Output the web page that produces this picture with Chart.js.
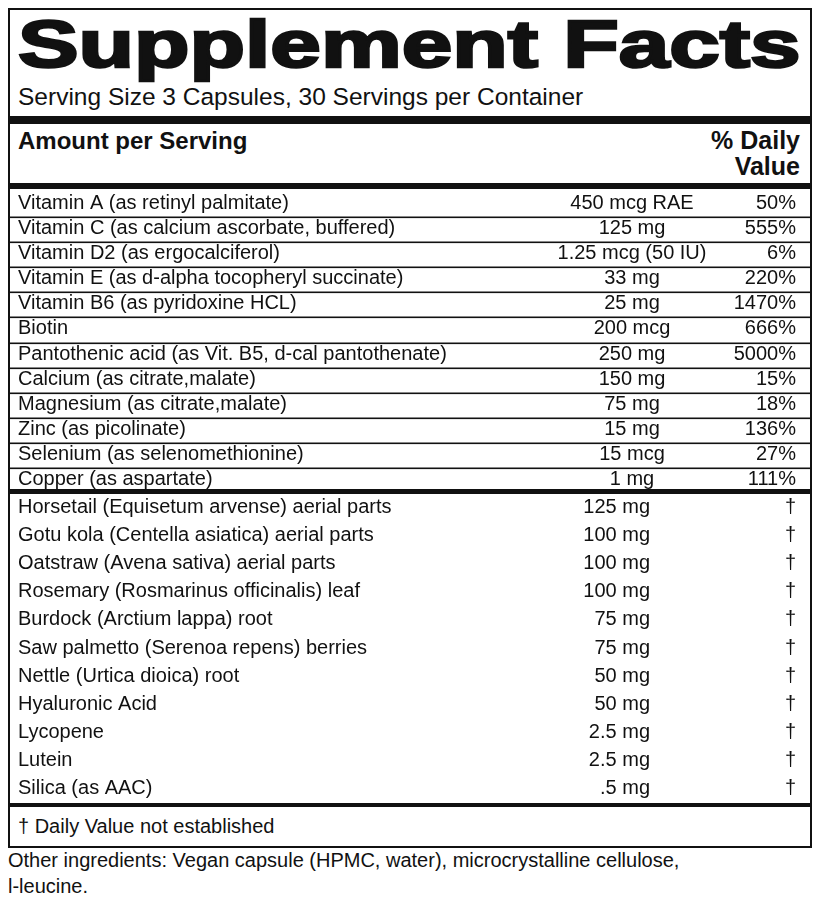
<!DOCTYPE html>
<html>
<head>
<meta charset="utf-8">
<script src="https://cdn.jsdelivr.net/npm/chart.js@4"></script>
<style>
  body { margin: 0; background: #fff; font-family: "Liberation Sans", Arial, sans-serif; color: #111; }
  #wrap { position: relative; width: 820px; height: 900px; overflow: hidden; }
  #box { position: absolute; left: 8px; top: 8px; width: 800px; height: 836px; border: 2px solid #111; }
  .t { position: absolute; white-space: nowrap; }
  .bar { position: absolute; left: 10px; width: 800px; background: #111; }
  canvas { position: absolute; left: 0; }
</style>
</head>
<body>
<div id="wrap">
  <div id="box"></div>
  <div class="t" id="title" style="left:18px;top:6px;font-size:66px;font-weight:bold;-webkit-text-stroke:2.5px #111;transform-origin:left top;">Supplement Facts</div>
  <div class="t" style="left:18px;top:83px;font-size:24.5px;">Serving Size 3 Capsules, 30 Servings per Container</div>
  <div class="bar" style="top:116px;height:8px;"></div>
  <div class="t" style="left:18px;top:127px;font-size:24px;font-weight:bold;">Amount per Serving</div>
  <div class="t" style="right:20px;top:127px;font-size:25px;font-weight:bold;text-align:right;line-height:26px;">% Daily<br>Value</div>
  <div class="bar" style="top:183px;height:6px;"></div>
  <canvas id="vit" width="820" height="301" style="top:191px;"></canvas>
  <div class="bar" style="top:489px;height:5px;"></div>
  <canvas id="herb" width="820" height="310" style="top:493px;"></canvas>
  <div class="bar" style="top:803px;height:4px;"></div>
  <div class="t" style="left:18px;top:815px;font-size:20px;">† Daily Value not established</div>
  <div class="t" style="left:8px;top:847px;font-size:20px;line-height:26px;">Other ingredients: Vegan capsule (HPMC, water), microcrystalline cellulose,<br>l-leucine.</div>
</div>
<script>
const vitNames = ['Vitamin A (as retinyl palmitate)', 'Vitamin C (as calcium ascorbate, buffered)', 'Vitamin D2 (as ergocalciferol)',
  'Vitamin E (as d-alpha tocopheryl succinate)', 'Vitamin B6 (as pyridoxine HCL)', 'Biotin',
  'Pantothenic acid (as Vit. B5, d-cal pantothenate)', 'Calcium (as citrate,malate)', 'Magnesium (as citrate,malate)',
  'Zinc (as picolinate)', 'Selenium (as selenomethionine)', 'Copper (as aspartate)'];
const vitAmounts = ['450 mcg RAE', '125 mg', '1.25 mcg (50 IU)', '33 mg', '25 mg', '200 mcg', '250 mg', '150 mg', '75 mg', '15 mg', '15 mcg', '1 mg'];
const vitDV = ['50%', '555%', '6%', '220%', '1470%', '666%', '5000%', '15%', '18%', '136%', '27%', '111%'];

const herbNames = ['Horsetail (Equisetum arvense) aerial parts', 'Gotu kola (Centella asiatica) aerial parts', 'Oatstraw (Avena sativa) aerial parts',
  'Rosemary (Rosmarinus officinalis) leaf', 'Burdock (Arctium lappa) root', 'Saw palmetto (Serenoa repens) berries',
  'Nettle (Urtica dioica) root', 'Hyaluronic Acid', 'Lycopene', 'Lutein', 'Silica (as AAC)'];
const herbAmounts = ['125 mg', '100 mg', '100 mg', '100 mg', '75 mg', '75 mg', '50 mg', '50 mg', '2.5 mg', '2.5 mg', '.5 mg'];
const herbDV = ['†', '†', '†', '†', '†', '†', '†', '†', '†', '†', '†'];

// fit the title across the box
const title = document.getElementById('title');
title.style.transform = 'scaleX(' + (782 / title.offsetWidth) + ')';

function makeTable(id, names, amounts, dv, amountAlign, amountX, separators) {
  const rowText = {
    id: 'rowText',
    afterDraw(chart) {
      const ctx = chart.ctx, y = chart.scales.y;
      ctx.save();
      ctx.fillStyle = '#111';
      ctx.font = '20px "Liberation Sans", Arial, sans-serif';
      ctx.textBaseline = 'middle';
      names.forEach((n, i) => {
        const py = y.getPixelForValue(i);
        ctx.textAlign = 'left';
        ctx.fillText(n, 18, py);
        ctx.textAlign = amountAlign;
        ctx.fillText(amounts[i], amountX, py);
        ctx.textAlign = 'right';
        ctx.fillText(dv[i], 796, py);
        if (separators && i > 0) {
          const ly = Math.round((y.getPixelForValue(i - 1) + py) / 2) + 1.5;
          ctx.fillRect(10, ly - 1, 800, 1.6);
        }
      });
      ctx.restore();
    }
  };
  new Chart(document.getElementById(id), {
    type: 'bar',
    data: { labels: names, datasets: [{ data: names.map(() => 0) }] },
    options: {
      indexAxis: 'y',
      responsive: false,
      animation: false,
      layout: { padding: 0 },
      plugins: { legend: { display: false }, tooltip: { enabled: false } },
      scales: { x: { display: false }, y: { display: false, offset: true } }
    },
    plugins: [rowText]
  });
}

makeTable('vit', vitNames, vitAmounts, vitDV, 'center', 632, true);
makeTable('herb', herbNames, herbAmounts, herbDV, 'right', 650, false);
</script>
</body>
</html>
